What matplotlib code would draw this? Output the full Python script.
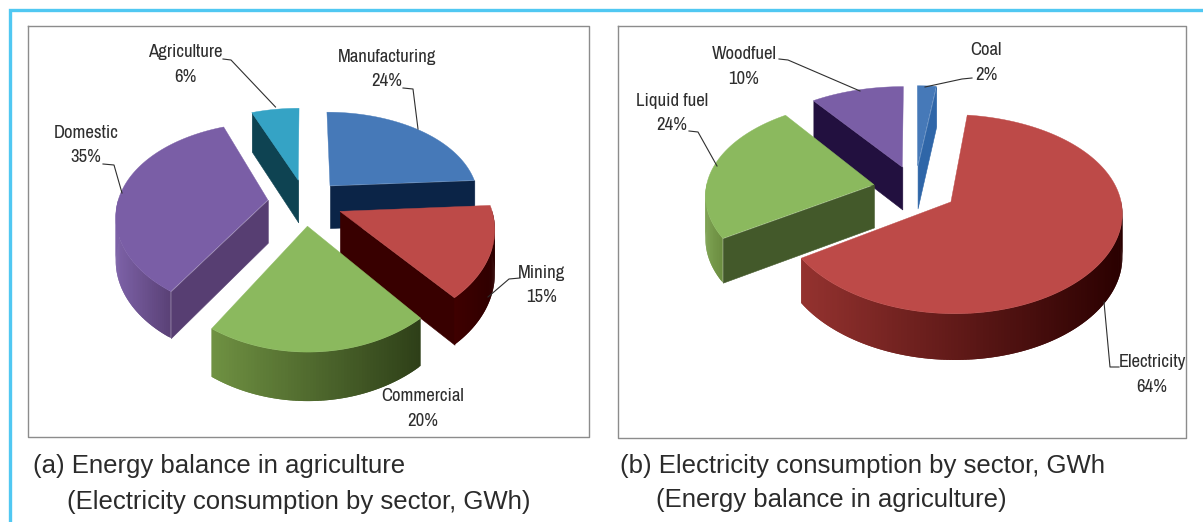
import numpy as np
import matplotlib
matplotlib.use("Agg")
import matplotlib.pyplot as plt
from matplotlib.collections import PolyCollection
from matplotlib.colors import to_rgb
from matplotlib.font_manager import fontManager

# Shares in percent, clockwise from twelve o'clock
sectors_a = ["Manufacturing", "Mining", "Commercial", "Domestic", "Agriculture"]
shares_a = [24, 15, 20, 35, 6]
sectors_b = ["Coal", "Electricity", "Liquid fuel", "Woodfuel"]
shares_b = [2, 64, 24, 10]

caption_a = ["(a) Energy balance in agriculture", "(Electricity consumption by sector, GWh)"]
caption_b = ["(b) Electricity consumption by sector, GWh", "(Energy balance in agriculture)"]

BLUE = dict(top="#4679b8", cut="#0b2447", rim=("#1d4f8a", "#0b2447"))
RED = dict(top="#bd4a48", cut="#380000", rim=("#94322f", "#2a0000"))
GREEN = dict(top="#8bb95e", cut="#43592a", rim=("#6f9142", "#2e3f18"))
PURPLE = dict(top="#7a5ea6", cut="#573e72", rim=("#7d62a8", "#5a4176"))
TEAL = dict(top="#35a3c5", cut="#0e4352", rim=("#0e4352", "#0e4352"))

styles_a = [BLUE, dict(RED, rim=("#3f0000", "#2e0000")), GREEN, PURPLE, TEAL]
styles_b = [dict(BLUE, cut="#2f66a8"), RED, dict(GREEN, rim=("#7ea353", "#6b8c40")),
            dict(PURPLE, cut="#22103f")]


def draw_exploded_pie(ax, shares, styles, cx, cy, rx, ry, persp, explode, depth):
    """Draw a tilted, exploded pie with extruded slices, back slices first."""
    def project(u, v):
        p = 1.0 / (1.0 + persp * v)
        return cx + rx * u * p ** 0.8, cy - ry * v * p, p

    edges = np.cumsum([0] + list(shares)) / sum(shares) * 2 * np.pi
    slices = []
    for i, style in enumerate(styles):
        mid = (edges[i] + edges[i + 1]) / 2
        slices.append((explode * np.cos(mid), explode * np.sin(mid), edges[i], edges[i + 1], style))
    slices.sort(key=lambda s: -s[0])

    for v0, u0, a0, a1, style in slices:
        theta = np.linspace(a0, a1, max(8, int((a1 - a0) * 60)))
        x, y, p = project(u0 + np.sin(theta), v0 + np.cos(theta))
        drop = depth * np.sqrt(p)
        ax0, ay0, p0 = project(u0, v0)
        drop0 = depth * np.sqrt(p0)

        # Cut faces: only the one turned toward the viewer is drawn
        faces = []
        if np.cos(a0 - np.pi / 2) < -1e-6:
            faces.append([(ax0, ay0), (x[0], y[0]), (x[0], y[0] + drop[0]), (ax0, ay0 + drop0)])
        if np.cos(a1 + np.pi / 2) < -1e-6:
            faces.append([(ax0, ay0), (x[-1], y[-1]), (x[-1], y[-1] + drop[-1]), (ax0, ay0 + drop0)])
        if faces:
            ax.add_collection(PolyCollection(faces, facecolors=style["cut"],
                                             edgecolors=style["cut"], linewidths=0.4))

        # Outer rim, shaded from left to right; neighbouring quads overlap to hide seams
        front = np.where(np.cos(theta) < 0.02)[0]
        if len(front) > 1:
            light, dark = map(np.array, map(to_rgb, style["rim"]))
            span = max(x[front].max() - x[front].min(), 1e-6)
            quads, shades = [], []
            for j, k in zip(front[:-1], front[1:]):
                m = min(k + 1, front[-1])
                quads.append([(x[j], y[j]), (x[k], y[k]), (x[m], y[m]),
                              (x[m], y[m] + drop[m]), (x[k], y[k] + drop[k]), (x[j], y[j] + drop[j])])
                t = ((x[j] + x[k]) / 2 - x[front].min()) / span
                shades.append(light + (dark - light) * t)
            ax.add_collection(PolyCollection(quads, facecolors=shades, edgecolors="none", linewidths=0))

        ax.fill(np.r_[ax0, x], np.r_[ay0, y], color=style["top"], lw=0.3)


# Prefer an installed condensed face for the slice labels
names = sorted({f.name for f in fontManager.ttflist
                if "narrow" in f.name.lower() or "condensed" in f.name.lower()
                or "condensed" in str(f.stretch).lower()})
label_family = names[:1] + ["Lato", "DejaVu Sans"]
label_stretch = "condensed"
label_size = 13.5 if names else 11.6

fig = plt.figure(figsize=(12.03, 5.22), dpi=100, facecolor="white")
ax = fig.add_axes([0, 0, 1, 1])
ax.set_xlim(0, 1203)
ax.set_ylim(522, 0)
ax.axis("off")

# Page rule along the top and left
ax.plot([9.7, 9.7, 1203], [522, 9.7, 9.7], color="#50c8f2", lw=2.4, solid_joinstyle="miter")

# Panel frames
for x0, x1, y0, y1 in [(27.5, 588.5, 26, 437), (617.5, 1186, 26, 438)]:
    ax.plot([x0, x1, x1, x0, x0], [y0, y0, y1, y1, y0], color="#8c8c8c", lw=1.0)

draw_exploded_pie(ax, shares_a, styles_a, 305, 202, 150, 92.5, 0.184, 0.25, 43)
draw_exploded_pie(ax, shares_b, styles_b, 915, 189, 168, 95, 0.12, 0.25, 43)

# label centre (x, y of name line), leader polyline
placements_a = {
    "Manufacturing": ((387, 57), [(403, 88), (413, 89), (418, 129)]),
    "Mining": ((542, 273), [(520, 278), (509, 279), (488, 297)]),
    "Commercial": ((423, 396), None),
    "Domestic": ((86, 133), [(103, 164), (114, 165), (122, 193)]),
    "Agriculture": ((185, 52), [(223, 59), (231, 60), (275.5, 107)]),
}
placements_b = {
    "Coal": ((986, 50), [(972, 78), (962, 79), (925, 87)]),
    "Electricity": ((1152, 362), [(1119, 367), (1110, 367), (1104, 302)]),
    "Liquid fuel": ((672, 101), [(689, 131), (698, 132), (717, 166)]),
    "Woodfuel": ((744, 54), [(779, 59), (788, 60), (860, 91)]),
}

for sector_names, shares, placements in [(sectors_a, shares_a, placements_a), (sectors_b, shares_b, placements_b)]:
    for name, share in zip(sector_names, shares):
        (lx, ly), leader = placements[name]
        ax.text(lx, ly, name, ha="center", va="center", fontsize=label_size, color="#2e2e2e",
                family=label_family, stretch=label_stretch)
        ax.text(lx, ly + 24.5, f"{share}%", ha="center", va="center", fontsize=label_size, color="#2e2e2e",
                family=label_family, stretch=label_stretch)
        if leader:
            ax.plot(*zip(*leader), color="#2f2f2f", lw=0.8)

for (x1, y1, t1), (x2, y2, t2) in [((33, 466.5, caption_a[0]), (67, 501.5, caption_a[1])),
                                   ((620, 465.5, caption_b[0]), (656, 500.5, caption_b[1]))]:
    ax.text(x1, y1, t1, ha="left", va="center", fontsize=18.5, color="#2b2b2b", family="Liberation Sans")
    ax.text(x2, y2, t2, ha="left", va="center", fontsize=18.5, color="#2b2b2b", family="Liberation Sans")

fig.savefig("out.png", dpi=100, facecolor="white")
